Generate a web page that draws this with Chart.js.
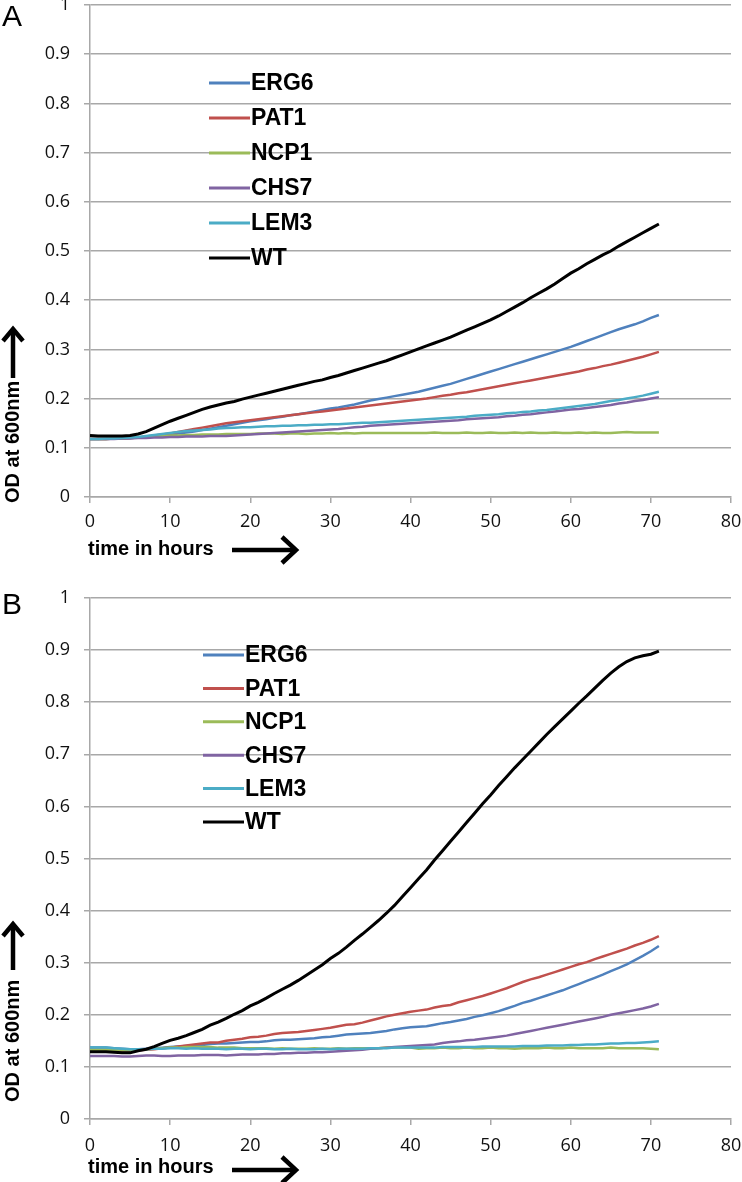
<!DOCTYPE html>
<html>
<head>
<meta charset="utf-8">
<script src="https://cdn.jsdelivr.net/npm/chart.js@4.4.0/dist/chart.umd.min.js"></script>
<style>
  html, body { margin: 0; padding: 0; background: #fff; }
  .panel { position: absolute; left: 0; width: 742px; }
  #panelA { top: 0; height: 580px; }
  #panelB { top: 580px; height: 602px; }
</style>
</head>
<body>
<div class="panel" id="panelA"><canvas id="chartA" width="742" height="580"></canvas></div>
<div class="panel" id="panelB"><canvas id="chartB" width="742" height="602"></canvas></div>
<script>
const hours = [
  0, 1, 2, 3, 4, 5, 6, 7, 8, 9,
  10, 11, 12, 13, 14, 15, 16, 17, 18, 19,
  20, 21, 22, 23, 24, 25, 26, 27, 28, 29,
  30, 31, 32, 33, 34, 35, 36, 37, 38, 39,
  40, 41, 42, 43, 44, 45, 46, 47, 48, 49,
  50, 51, 52, 53, 54, 55, 56, 57, 58, 59,
  60, 61, 62, 63, 64, 65, 66, 67, 68, 69,
  70, 71
];
const strains = ['ERG6', 'PAT1', 'NCP1', 'CHS7', 'LEM3', 'WT'];
const strainColors = ['#4f81bd', '#c0504d', '#9bbb59', '#8064a2', '#4bacc6', '#000000'];
const xTicks = [0, 10, 20, 30, 40, 50, 60, 70, 80];
const yTicks = [0, 0.1, 0.2, 0.3, 0.4, 0.5, 0.6, 0.7, 0.8, 0.9, 1];

// panel A
const erg6A = [
  0.118,0.118,0.118,0.119,0.119,0.120,0.121,0.122,0.124,0.125,
  0.127,0.129,0.131,0.133,0.136,0.139,0.142,0.145,0.148,0.151,
  0.154,0.156,0.158,0.161,0.163,0.166,0.168,0.171,0.174,0.177,
  0.180,0.182,0.185,0.188,0.192,0.196,0.199,0.202,0.205,0.208,
  0.211,0.214,0.218,0.222,0.226,0.230,0.235,0.240,0.245,0.250,
  0.255,0.260,0.265,0.270,0.275,0.280,0.285,0.290,0.295,0.300,
  0.305,0.311,0.317,0.323,0.329,0.335,0.341,0.346,0.351,0.357,
  0.364,0.370
];
const pat1A = [
  0.118,0.118,0.118,0.119,0.119,0.120,0.121,0.123,0.125,0.127,
  0.129,0.132,0.135,0.138,0.141,0.144,0.147,0.150,0.152,0.154,
  0.156,0.158,0.160,0.162,0.164,0.166,0.168,0.170,0.172,0.174,
  0.176,0.178,0.180,0.182,0.184,0.186,0.188,0.190,0.192,0.194,
  0.196,0.198,0.200,0.203,0.206,0.208,0.211,0.213,0.216,0.219,
  0.222,0.225,0.228,0.231,0.234,0.237,0.240,0.243,0.246,0.249,
  0.252,0.255,0.259,0.262,0.266,0.269,0.273,0.277,0.281,0.285,
  0.290,0.295
];
const ncp1A = [
  0.118,0.118,0.118,0.119,0.119,0.120,0.121,0.122,0.123,0.124,
  0.125,0.125,0.126,0.126,0.127,0.127,0.127,0.128,0.128,0.128,
  0.128,0.129,0.129,0.129,0.128,0.129,0.129,0.128,0.129,0.129,
  0.130,0.129,0.130,0.129,0.130,0.130,0.130,0.130,0.130,0.130,
  0.130,0.130,0.130,0.131,0.130,0.130,0.130,0.131,0.130,0.130,
  0.131,0.130,0.130,0.131,0.130,0.131,0.130,0.130,0.131,0.130,
  0.130,0.131,0.130,0.131,0.130,0.130,0.131,0.132,0.131,0.131,
  0.131,0.131
];
const chs7A = [
  0.118,0.118,0.118,0.118,0.119,0.119,0.120,0.120,0.121,0.121,
  0.122,0.122,0.123,0.123,0.123,0.124,0.124,0.124,0.125,0.126,
  0.127,0.128,0.129,0.130,0.131,0.132,0.133,0.134,0.135,0.136,
  0.137,0.138,0.140,0.142,0.143,0.145,0.146,0.147,0.148,0.149,
  0.150,0.151,0.152,0.153,0.154,0.155,0.156,0.158,0.159,0.160,
  0.161,0.162,0.164,0.165,0.167,0.168,0.170,0.172,0.174,0.176,
  0.178,0.179,0.181,0.183,0.185,0.187,0.190,0.192,0.195,0.197,
  0.200,0.203
];
const lem3A = [
  0.118,0.118,0.119,0.119,0.120,0.121,0.122,0.124,0.126,0.128,
  0.130,0.132,0.134,0.135,0.136,0.137,0.139,0.140,0.141,0.142,
  0.142,0.143,0.144,0.144,0.145,0.145,0.146,0.146,0.147,0.147,
  0.148,0.148,0.149,0.150,0.151,0.151,0.152,0.153,0.154,0.155,
  0.156,0.157,0.158,0.159,0.160,0.161,0.162,0.163,0.165,0.166,
  0.167,0.168,0.170,0.171,0.173,0.174,0.176,0.177,0.179,0.181,
  0.183,0.185,0.187,0.189,0.192,0.195,0.197,0.200,0.203,0.206,
  0.210,0.214
];
const wtA = [
  0.125,0.124,0.124,0.124,0.124,0.125,0.128,0.133,0.140,0.147,
  0.154,0.160,0.166,0.172,0.178,0.183,0.187,0.191,0.194,0.199,
  0.203,0.207,0.211,0.215,0.219,0.223,0.227,0.231,0.235,0.238,
  0.243,0.247,0.252,0.257,0.262,0.267,0.272,0.277,0.283,0.289,
  0.295,0.301,0.307,0.313,0.319,0.325,0.332,0.339,0.346,0.353,
  0.360,0.368,0.377,0.386,0.395,0.405,0.414,0.423,0.433,0.444,
  0.455,0.464,0.474,0.483,0.492,0.500,0.510,0.519,0.528,0.537,
  0.546,0.555
];

// panel B
const erg6B = [
  0.137,0.137,0.137,0.136,0.135,0.134,0.134,0.135,0.136,0.137,
  0.138,0.139,0.140,0.141,0.142,0.144,0.145,0.145,0.146,0.147,
  0.148,0.148,0.149,0.151,0.152,0.152,0.153,0.154,0.155,0.157,
  0.158,0.160,0.162,0.163,0.164,0.165,0.167,0.169,0.172,0.174,
  0.176,0.177,0.178,0.181,0.184,0.186,0.189,0.192,0.196,0.199,
  0.203,0.207,0.212,0.217,0.223,0.227,0.232,0.237,0.242,0.247,
  0.253,0.259,0.265,0.271,0.277,0.284,0.290,0.297,0.305,0.313,
  0.322,0.332
];
const pat1B = [
  0.133,0.133,0.133,0.132,0.131,0.131,0.132,0.133,0.134,0.136,
  0.137,0.139,0.141,0.143,0.145,0.147,0.147,0.150,0.152,0.154,
  0.157,0.158,0.160,0.163,0.165,0.166,0.167,0.169,0.171,0.173,
  0.175,0.178,0.181,0.182,0.185,0.189,0.193,0.197,0.200,0.203,
  0.206,0.208,0.210,0.214,0.217,0.219,0.224,0.228,0.232,0.236,
  0.241,0.246,0.251,0.257,0.263,0.268,0.272,0.277,0.282,0.287,
  0.292,0.297,0.301,0.307,0.312,0.317,0.322,0.327,0.333,0.338,
  0.344,0.351
];
const ncp1B = [
  0.133,0.133,0.133,0.132,0.132,0.132,0.133,0.134,0.135,0.136,
  0.137,0.137,0.138,0.138,0.138,0.138,0.137,0.137,0.137,0.136,
  0.136,0.136,0.136,0.135,0.136,0.135,0.135,0.135,0.136,0.135,
  0.135,0.136,0.135,0.136,0.136,0.136,0.136,0.137,0.137,0.137,
  0.137,0.135,0.136,0.136,0.137,0.136,0.136,0.137,0.136,0.136,
  0.137,0.136,0.136,0.135,0.136,0.136,0.136,0.137,0.136,0.136,
  0.137,0.136,0.136,0.136,0.136,0.137,0.136,0.136,0.136,0.136,
  0.135,0.134
];
const chs7B = [
  0.121,0.121,0.121,0.121,0.120,0.120,0.121,0.122,0.122,0.121,
  0.121,0.122,0.122,0.122,0.123,0.123,0.123,0.122,0.123,0.124,
  0.124,0.124,0.125,0.125,0.126,0.126,0.127,0.127,0.128,0.128,
  0.129,0.130,0.131,0.132,0.133,0.135,0.136,0.137,0.138,0.139,
  0.140,0.141,0.142,0.143,0.146,0.148,0.149,0.151,0.152,0.154,
  0.156,0.158,0.160,0.163,0.166,0.169,0.172,0.175,0.178,0.181,
  0.184,0.187,0.190,0.193,0.196,0.200,0.203,0.206,0.209,0.212,
  0.216,0.221
];
const lem3B = [
  0.137,0.137,0.137,0.136,0.135,0.134,0.134,0.134,0.135,0.135,
  0.136,0.136,0.135,0.136,0.135,0.135,0.135,0.134,0.135,0.135,
  0.134,0.135,0.135,0.134,0.134,0.135,0.134,0.134,0.134,0.135,
  0.134,0.135,0.135,0.135,0.135,0.136,0.136,0.136,0.137,0.137,
  0.137,0.137,0.137,0.137,0.138,0.138,0.138,0.138,0.138,0.139,
  0.139,0.139,0.139,0.139,0.140,0.140,0.140,0.141,0.141,0.141,
  0.142,0.142,0.143,0.143,0.144,0.145,0.145,0.146,0.146,0.147,
  0.148,0.149
];
const wtB = [
  0.129,0.129,0.129,0.128,0.127,0.127,0.131,0.134,0.139,0.145,
  0.151,0.155,0.160,0.166,0.172,0.180,0.186,0.193,0.201,0.208,
  0.217,0.224,0.232,0.241,0.249,0.257,0.266,0.276,0.286,0.296,
  0.308,0.318,0.330,0.343,0.355,0.368,0.381,0.395,0.410,0.427,
  0.444,0.461,0.478,0.497,0.515,0.533,0.551,0.569,0.587,0.605,
  0.622,0.640,0.657,0.674,0.690,0.706,0.722,0.738,0.753,0.768,
  0.783,0.798,0.812,0.827,0.842,0.856,0.868,0.878,0.885,0.889,
  0.892,0.898
];

const gridColor = '#a8a8a8';
const tickFont = { family: '"Open Sans", sans-serif', size: 18 };
const boldFont = '"Liberation Sans", Arial, sans-serif';

// letter, legend, axis titles and arrows
const decorPlugin = {
  id: 'decor',
  afterDraw(chart, args, o) {
    const ctx = chart.ctx;
    ctx.save();
    ctx.fillStyle = '#000';

    ctx.font = '30px ' + boldFont;
    ctx.textBaseline = 'alphabetic';
    ctx.textAlign = 'left';
    ctx.fillText(o.letter, 2, o.letterBase);

    ctx.font = 'bold 23px ' + boldFont;
    ctx.textBaseline = 'middle';
    chart.data.datasets.forEach((ds, i) => {
      const y = o.legendTop + i * o.legendStep;
      ctx.strokeStyle = ds.borderColor;
      ctx.lineWidth = 3;
      ctx.beginPath();
      ctx.moveTo(o.legendX, y);
      ctx.lineTo(o.legendX + 41, y);
      ctx.stroke();
      ctx.fillText(ds.label, o.legendX + 42, y + 1);
    });

    ctx.font = 'bold 20px ' + boldFont;
    ctx.strokeStyle = '#000';
    ctx.lineWidth = 4.5;
    ctx.lineCap = 'butt';
    ctx.lineJoin = 'miter';

    // y title + up arrow
    ctx.save();
    ctx.translate(o.yTitleX, o.yTitleBottom);
    ctx.rotate(-Math.PI / 2);
    ctx.textBaseline = 'middle';
    ctx.fillText(o.yTitle, 0, 0);
    ctx.restore();
    ctx.beginPath();
    ctx.moveTo(o.yTitleX, o.yArrowBase);
    ctx.lineTo(o.yTitleX, o.yArrowTip + 2);
    ctx.stroke();
    ctx.beginPath();
    ctx.moveTo(o.yTitleX - 10, o.yArrowTip + 14);
    ctx.lineTo(o.yTitleX, o.yArrowTip + 2);
    ctx.lineTo(o.yTitleX + 10, o.yArrowTip + 14);
    ctx.stroke();

    // x title + right arrow
    ctx.textBaseline = 'middle';
    ctx.fillText(o.xTitle, 88, o.xTitleY);
    ctx.beginPath();
    ctx.moveTo(232, o.xArrowY);
    ctx.lineTo(295, o.xArrowY);
    ctx.stroke();
    ctx.beginPath();
    ctx.moveTo(282, o.xArrowY - 13);
    ctx.lineTo(296, o.xArrowY);
    ctx.lineTo(282, o.xArrowY + 13);
    ctx.stroke();

    ctx.restore();
  }
};

function buildChart(canvasId, series, frame) {
  const datasets = strains.map((name, i) => ({
    label: name,
    data: series[i].map((v, j) => ({ x: hours[j], y: v })),
    borderColor: strainColors[i],
    borderWidth: name === 'WT' ? 3 : 2.5,
    pointRadius: 0,
    tension: 0,
    fill: false,
    order: strains.length - i
  }));

  return new Chart(document.getElementById(canvasId), {
    type: 'line',
    data: { datasets },
    options: {
      responsive: false,
      animation: false,
      devicePixelRatio: 1,
      layout: { padding: { top: frame.top, right: 11, left: 0, bottom: 0 } },
      plugins: {
        legend: { display: false },
        tooltip: { enabled: false },
        decor: frame
      },
      scales: {
        x: {
          type: 'linear',
          min: 0,
          max: 80,
          afterBuildTicks: s => { s.ticks = xTicks.map(v => ({ value: v })); },
          afterFit: s => { s.height = frame.xAxisHeight; s.paddingLeft = 0; s.paddingRight = 0; },
          grid: { drawOnChartArea: false, tickLength: 6, color: gridColor, lineWidth: 1.5 },
          border: { color: gridColor, width: 1.5 },
          ticks: { font: tickFont, color: '#111', padding: frame.xTickPad, maxRotation: 0, autoSkip: false }
        },
        y: {
          min: 0,
          max: 1,
          afterBuildTicks: s => { s.ticks = yTicks.map(v => ({ value: v })); },
          afterFit: s => { s.width = 90; s.paddingTop = 0; s.paddingBottom = 0; },
          grid: { tickLength: 6, color: gridColor, lineWidth: 1.5 },
          border: { color: gridColor, width: 1.5 },
          ticks: { font: tickFont, color: '#111', padding: 14, autoSkip: false,
                   callback: v => String(+v.toFixed(1)) }
        }
      }
    },
    plugins: [decorPlugin]
  });
}

buildChart('chartA', [erg6A, pat1A, ncp1A, chs7A, lem3A, wtA], {
  top: 5, xAxisHeight: 83, xTickPad: 8,
  letter: 'A', letterBase: 26,
  legendX: 209, legendTop: 83, legendStep: 35,
  yTitle: 'OD at 600nm', yTitleX: 13, yTitleBottom: 503, yArrowTip: 327, yArrowBase: 378,
  xTitle: 'time in hours', xTitleY: 549, xArrowY: 550
});

buildChart('chartB', [erg6B, pat1B, ncp1B, chs7B, lem3B, wtB], {
  top: 18, xAxisHeight: 63, xTickPad: 10,
  letter: 'B', letterBase: 34,
  legendX: 203, legendTop: 75, legendStep: 33.4,
  yTitle: 'OD at 600nm', yTitleX: 13, yTitleBottom: 522, yArrowTip: 342, yArrowBase: 390,
  xTitle: 'time in hours', xTitleY: 587, xArrowY: 590
});
</script>
</body>
</html>
